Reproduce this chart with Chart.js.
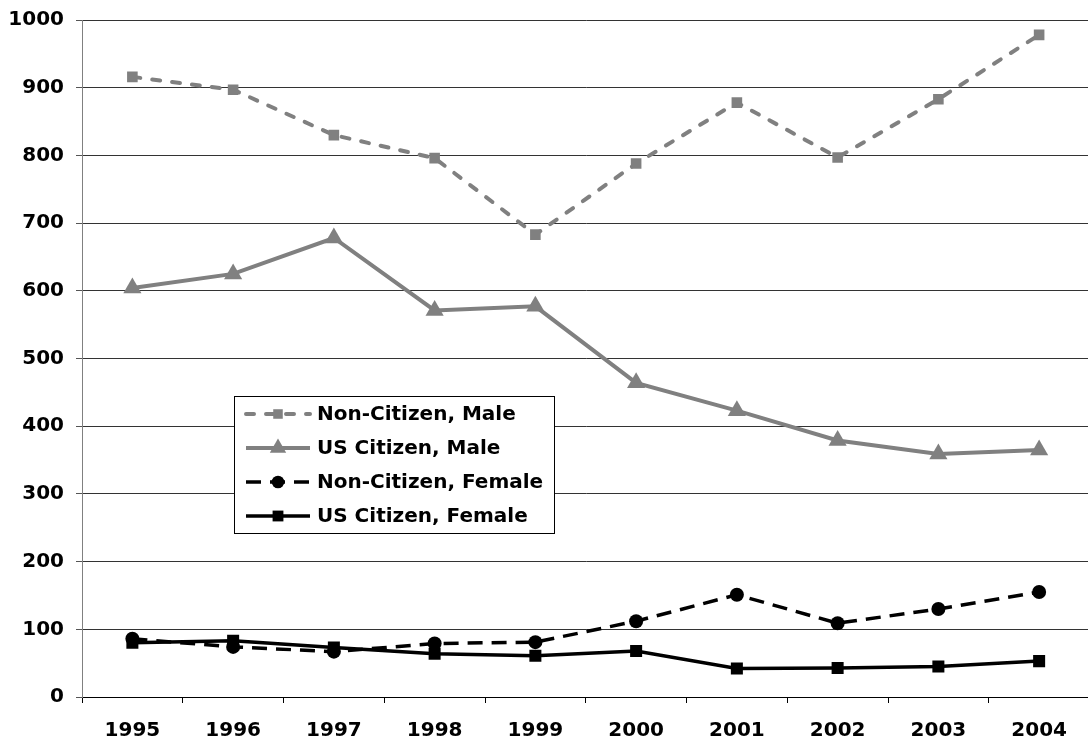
<!DOCTYPE html>
<html>
<head>
<meta charset="utf-8">
<script src="https://cdn.jsdelivr.net/npm/chart.js@4.4.1/dist/chart.umd.min.js"></script>
<style>
  html, body { margin: 0; padding: 0; background: #fff; overflow: hidden; }
  #wrap { position: relative; width: 1088px; height: 741px; overflow: hidden; }
</style>
</head>
<body>
<div id="wrap"><canvas id="chart" width="1100" height="741"></canvas></div>
<script>
const years = ['1995', '1996', '1997', '1998', '1999', '2000', '2001', '2002', '2003', '2004'];
const nonCitizenMale = [916, 897, 830, 796, 683, 788, 878, 797, 883, 978];
const usCitizenMale = [604, 625, 678, 571, 577, 464, 423, 379, 359, 365];
const nonCitizenFemale = [86, 74, 67, 79, 81, 112, 151, 109, 130, 155];
const usCitizenFemale = [80, 83, 73, 64, 61, 68, 42, 43, 45, 53];
const yMin = 0, yMax = 1000, yStep = 100;

const FONT = '"DejaVu Sans", Verdana, sans-serif';
const GRAY = '#808080';

// legend box sitting inside the plot, like the original
const boxLegend = {
  id: 'boxLegend',
  afterDraw(chart) {
    const ctx = chart.ctx;
    const x0 = 234.5, y0 = 396.5, w = 320, h = 137;
    ctx.save();
    ctx.fillStyle = '#fff';
    ctx.fillRect(x0, y0, w, h);
    ctx.strokeStyle = '#000';
    ctx.lineWidth = 1;
    ctx.strokeRect(x0, y0, w, h);
    chart.data.datasets.forEach((ds, i) => {
      const y = 414 + i * 34;
      ctx.beginPath();
      ctx.setLineDash(ds.borderDash || []);
      ctx.lineCap = ds.borderCapStyle || 'butt';
      ctx.strokeStyle = ds.borderColor;
      ctx.lineWidth = ds.borderWidth;
      ctx.moveTo(246, y);
      ctx.lineTo(310, y);
      ctx.stroke();
      ctx.setLineDash([]);
      ctx.fillStyle = ds.pointBackgroundColor;
      Chart.helpers.drawPoint(ctx, { pointStyle: ds.pointStyle, radius: ds.pointRadius * 0.9, borderWidth: 0, rotation: 0 }, 278, y);
      ctx.fillStyle = '#000';
      ctx.font = 'bold 20px ' + FONT;
      ctx.textBaseline = 'middle';
      ctx.textAlign = 'left';
      ctx.fillText(ds.label, 317, y + 1);
    });
    ctx.restore();
  }
};

new Chart(document.getElementById('chart'), {
  type: 'line',
  data: {
    labels: years,
    datasets: [
      {
        label: 'Non-Citizen, Male',
        data: nonCitizenMale,
        borderColor: GRAY,
        borderWidth: 4,
        borderDash: [8, 12],
        borderCapStyle: 'round',
        pointStyle: 'rect',
        pointRadius: 7.5,
        pointBackgroundColor: GRAY,
        pointBorderWidth: 0
      },
      {
        label: 'US Citizen, Male',
        data: usCitizenMale,
        borderColor: GRAY,
        borderWidth: 4,
        pointStyle: 'triangle',
        pointRadius: 10.5,
        pointBackgroundColor: GRAY,
        pointBorderWidth: 0
      },
      {
        label: 'Non-Citizen, Female',
        data: nonCitizenFemale,
        borderColor: '#000',
        borderWidth: 3.5,
        borderDash: [15, 9],
        pointStyle: 'circle',
        pointRadius: 7,
        pointBackgroundColor: '#000',
        pointBorderWidth: 0
      },
      {
        label: 'US Citizen, Female',
        data: usCitizenFemale,
        borderColor: '#000',
        borderWidth: 3.5,
        pointStyle: 'rect',
        pointRadius: 8.5,
        pointBackgroundColor: '#000',
        pointBorderWidth: 0
      }
    ]
  },
  options: {
    responsive: false,
    animation: false,
    devicePixelRatio: 1,
    layout: { padding: { top: 20, right: 4, bottom: 0, left: 0 } },
    plugins: {
      legend: { display: false },
      tooltip: { enabled: false }
    },
    elements: { line: { tension: 0 } },
    scales: {
      x: {
        offset: true,
        grid: { offset: true, drawOnChartArea: false, drawTicks: true, tickLength: 6, color: '#000' },
        border: { color: '#000', width: 1 },
        ticks: { color: '#000', font: { family: FONT, size: 20, weight: 'bold' }, padding: 16, maxRotation: 0, autoSkip: false },
        afterFit: s => { s.height = 44; s.paddingLeft = 0; s.paddingRight = 0; }
      },
      y: {
        min: yMin,
        max: yMax,
        grid: { color: '#333', tickLength: 6, tickColor: '#555' },
        border: { color: GRAY, width: 1 },
        ticks: {
          stepSize: yStep,
          color: '#000',
          font: { family: FONT, size: 20, weight: 'bold' },
          padding: 12,
          callback: v => String(v)
        },
        afterFit: s => { s.width = 82; s.paddingTop = 0; s.paddingBottom = 0; }
      }
    }
  },
  plugins: [boxLegend]
});
</script>
</body>
</html>
